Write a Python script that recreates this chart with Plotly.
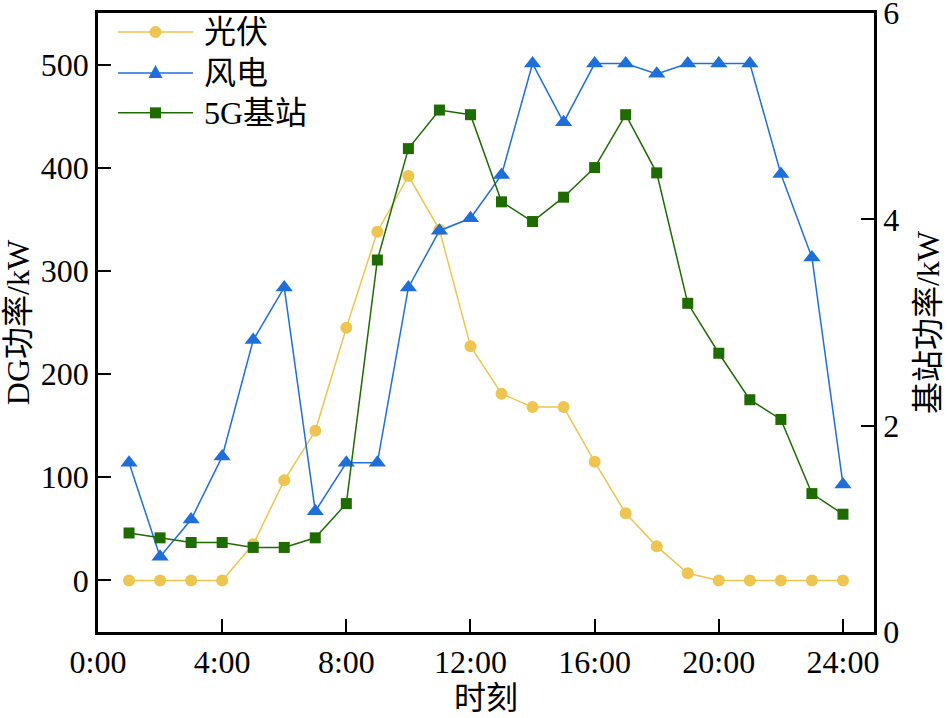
import plotly.graph_objects as go

hours = list(range(1, 25))
pv = [0, 0, 0, 0, 35, 97, 145, 245, 338, 392, 340, 227, 181, 168, 168, 115, 65, 33, 7, 0, 0, 0, 0, 0]
wind = [114, 23, 59, 120, 233, 284, 67, 114, 114, 284, 339, 351, 393, 501, 444, 501, 501, 491, 501, 501, 501, 394, 313, 93]
bs5g = [0.96, 0.913, 0.868, 0.868, 0.82, 0.82, 0.913, 1.245, 3.607, 4.687, 5.061, 5.016, 4.171, 3.98,
        4.216, 4.503, 5.016, 4.452, 3.187, 2.703, 2.252, 2.061, 1.342, 1.142]
xticks = [0, 4, 8, 12, 16, 20, 24]
xticklabels = ["0:00", "4:00", "8:00", "12:00", "16:00", "20:00", "24:00"]
series_names = ["光伏", "风电", "5G基站"]

FONT = "Liberation Serif, Times New Roman, Noto Sans CJK SC, serif"
C_PV = "#EEC550"
C_WIND = "#1F6FDB"
C_5G = "#1E6B00"
colors = [C_PV, C_WIND, C_5G]

fig = go.Figure()
fig.add_trace(go.Scatter(x=hours, y=pv, name=series_names[0], mode="lines+markers",
                         line=dict(color=C_PV, width=1.5),
                         marker=dict(symbol="circle", size=12, color=C_PV)))
fig.add_trace(go.Scatter(x=hours, y=wind, name=series_names[1], mode="lines+markers",
                         line=dict(color=C_WIND, width=1.5),
                         marker=dict(symbol="triangle-up", size=15, color=C_WIND)))
fig.add_trace(go.Scatter(x=hours, y=bs5g, name=series_names[2], mode="lines+markers", yaxis="y2",
                         line=dict(color=C_5G, width=1.5),
                         marker=dict(symbol="square", size=11, color=C_5G)))

axis_common = dict(showgrid=False, zeroline=False, showline=True, linecolor="black", linewidth=2.5,
                   ticks="inside", ticklen=13, tickwidth=2, tickcolor="black", automargin=False,
                   ticklabeloverflow="allow",
                   tickfont=dict(family=FONT, size=32, color="black"))

# custom legend (paper coordinates)
row_y = [0.9694, 0.9032, 0.8387]
lx0, lx1, mx, tx = 0.0258, 0.1224, 0.0741, 0.134
shapes = []
annotations = []
for i, (nm, c) in enumerate(zip(series_names, colors)):
    y = row_y[i]
    shapes.append(dict(type="line", xref="paper", yref="paper", x0=lx0, x1=lx1, y0=y, y1=y,
                       line=dict(color=c, width=1.5)))
    if i == 0:
        shapes.append(dict(type="circle", xref="paper", yref="paper", xsizemode="pixel", ysizemode="pixel",
                           xanchor=mx, yanchor=y, x0=-6, x1=6, y0=-6, y1=6,
                           fillcolor=c, line=dict(color=c, width=0)))
    elif i == 1:
        shapes.append(dict(type="path", xref="paper", yref="paper", xsizemode="pixel", ysizemode="pixel",
                           xanchor=mx, yanchor=y, path="M-7,-5 L7,-5 L0,8 Z",
                           fillcolor=c, line=dict(color=c, width=0)))
    else:
        shapes.append(dict(type="rect", xref="paper", yref="paper", xsizemode="pixel", ysizemode="pixel",
                           xanchor=mx, yanchor=y, x0=-5.5, x1=5.5, y0=-5.5, y1=5.5,
                           fillcolor=c, line=dict(color=c, width=0)))
    annotations.append(dict(text=nm, xref="paper", yref="paper", x=tx, y=y, xanchor="left", yanchor="middle",
                            showarrow=False, font=dict(family=FONT, size=32, color="black")))

fig.update_layout(
    width=947, height=718,
    margin=dict(l=98, r=73, t=13, b=86),
    paper_bgcolor="white", plot_bgcolor="white",
    font=dict(family=FONT, size=32, color="black"),
    xaxis=dict(range=[0, 25], tickvals=xticks, ticktext=xticklabels, mirror=True,
               title=dict(text="时刻", font=dict(family=FONT, size=32), standoff=0), **axis_common),
    yaxis=dict(range=[-50, 550], tickvals=[0, 100, 200, 300, 400, 500],
               title=dict(text="DG功率/kW", font=dict(family=FONT, size=32), standoff=4), **axis_common),
    yaxis2=dict(range=[0, 6.002], tickvals=[0, 2, 4, 6], overlaying="y", side="right",
                title=dict(text="基站功率/kW", font=dict(family=FONT, size=32), standoff=19), **axis_common),
    showlegend=False,
    shapes=shapes,
    annotations=annotations,
)

fig.write_html("out.html", config={"displayModeBar": False},
               post_script="document.body.style.margin='0';document.body.style.overflow='hidden';")
